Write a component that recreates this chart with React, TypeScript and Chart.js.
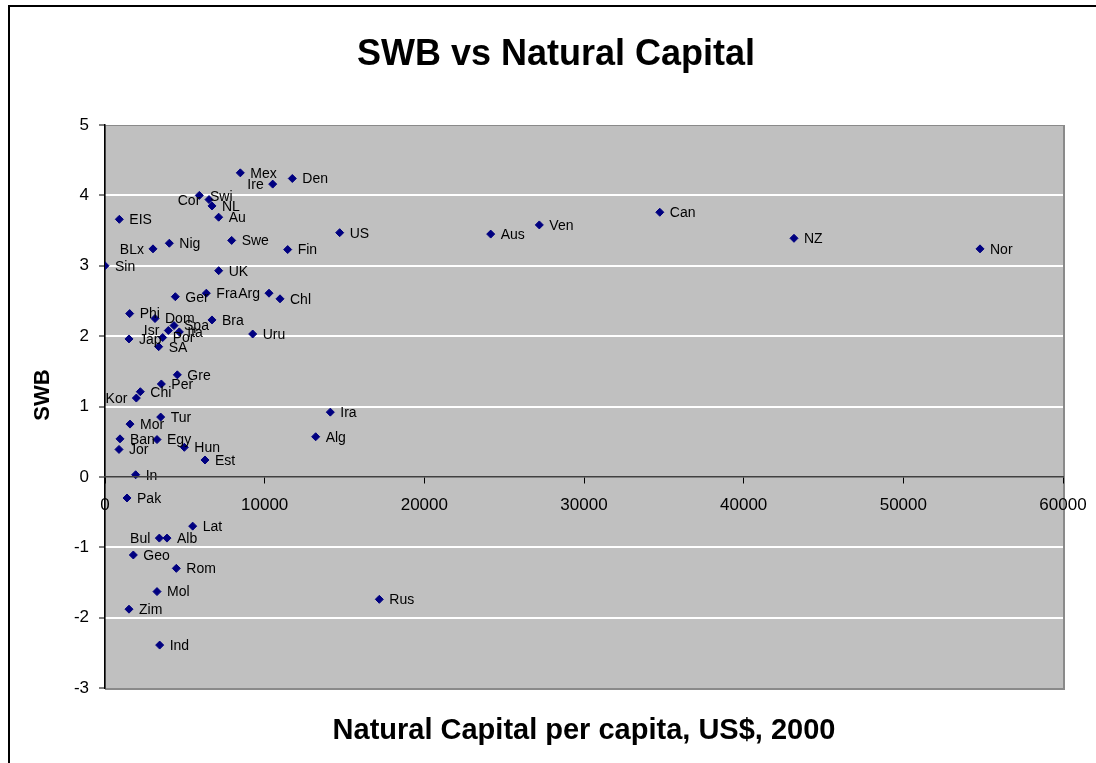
import React, { useEffect, useRef } from 'react';
import { Chart, registerables } from 'chart.js';

Chart.register(...registerables);

const countries = [
  'Mex', 'Ire', 'Den', 'Cor', 'Swi', 'NL', 'Au', 'EIS', 'US', 'Aus', 'Ven', 'Can', 'NZ', 'Nor',
  'Nig', 'Swe', 'BLx', 'Fin', 'Sin', 'UK', 'Ger', 'Fra', 'Arg', 'Chl', 'Phi', 'Dom', 'Bra',
  'Spa', 'Isr', 'Ita', 'Por', 'Jap', 'SA', 'Uru', 'Gre', 'Per', 'Chi', 'Kor', 'Tur', 'Ira',
  'Mor', 'Ban', 'Egy', 'Alg', 'Jor', 'Hun', 'Est', 'In', 'Pak', 'Lat', 'Bul', 'Alb', 'Geo',
  'Rom', 'Mol', 'Rus', 'Zim', 'Ind',
];

const naturalCapital = [
  8474, 10503, 11731, 5907, 6514, 6701, 7119, 898, 14698, 24156, 27202, 34747, 43152, 54802,
  4029, 7933, 3006, 11441, 0, 7119, 4405, 6347, 10272, 10961, 1545, 3132, 6701,
  4322, 3967, 4655, 3612, 1503, 3361, 9249, 4530, 3529, 2213, 1963, 3487, 14112,
  1566, 939, 3257, 13194, 877, 4968, 6263, 1920, 1378, 5491, 3403, 3883, 1775,
  4467, 3257, 17181, 1503, 3424,
];

const swb = [
  4.32, 4.16, 4.24, 4.0, 3.94, 3.85, 3.69, 3.66, 3.47, 3.45, 3.58, 3.76, 3.39, 3.24,
  3.32, 3.36, 3.24, 3.23, 3.0, 2.93, 2.56, 2.61, 2.61, 2.53, 2.32, 2.25, 2.23,
  2.15, 2.08, 2.06, 1.98, 1.96, 1.85, 2.03, 1.45, 1.32, 1.21, 1.12, 0.85, 0.92,
  0.75, 0.54, 0.53, 0.57, 0.39, 0.42, 0.24, 0.03, -0.3, -0.7, -0.87, -0.87, -1.11,
  -1.3, -1.63, -1.74, -1.88, -2.39,
];

const xTickValues = [0, 10000, 20000, 30000, 40000, 50000, 60000];
const yTickValues = [5, 4, 3, 2, 1, 0, -1, -2, -3];

// label placement (not data): labels drawn to the left of their marker, and small nudges
const leftLabels = ['Ire', 'Cor', 'BLx', 'Kor', 'Arg', 'Bul', 'Isr'];
const labelNudge: Record<string, [number, number]> = {
  Cor: [10, 5],
  Swi: [-9, -3],
  Ita: [-2, 0],
};

const FONT = "'Liberation Sans', Arial, Helvetica, sans-serif";

export default function App() {
  const ref = useRef<HTMLCanvasElement | null>(null);

  useEffect(() => {
    document.body.style.margin = '0';
    const canvas = ref.current;
    if (!canvas) return;

    const backgroundPlugin = {
      id: 'bgFrame',
      beforeDraw(chart: any) {
        const { ctx, chartArea: a } = chart;
        ctx.save();
        ctx.fillStyle = '#ffffff';
        ctx.fillRect(0, 0, chart.width, chart.height);
        // outer frame
        ctx.strokeStyle = '#000000';
        ctx.lineWidth = 2;
        ctx.strokeRect(9, 6, chart.width + 20, chart.height + 20);
        // plot area
        ctx.fillStyle = '#C0C0C0';
        ctx.fillRect(a.left, a.top, a.right - a.left, a.bottom - a.top);
        ctx.strokeStyle = '#8a8a8a';
        ctx.lineWidth = 1;
        ctx.strokeRect(a.left + 0.5, a.top + 0.5, a.right - a.left, a.bottom - a.top);
        ctx.lineWidth = 2;
        ctx.beginPath();
        ctx.moveTo(a.right + 1, a.top);
        ctx.lineTo(a.right + 1, a.bottom + 1);
        ctx.lineTo(a.left, a.bottom + 1);
        ctx.stroke();
        ctx.restore();
      },
    };

    const labelsPlugin = {
      id: 'pointLabels',
      afterDatasetsDraw(chart: any) {
        const { ctx } = chart;
        const meta = chart.getDatasetMeta(0);
        ctx.save();
        ctx.font = `14px ${FONT}`;
        ctx.fillStyle = '#000000';
        ctx.textBaseline = 'middle';
        meta.data.forEach((pt: any, i: number) => {
          const name = countries[i];
          const nudge = labelNudge[name] || [0, 0];
          if (leftLabels.includes(name)) {
            ctx.textAlign = 'right';
            ctx.fillText(name, pt.x - 9 + nudge[0], pt.y + 1 + nudge[1]);
          } else {
            ctx.textAlign = 'left';
            ctx.fillText(name, pt.x + 10 + nudge[0], pt.y + 1 + nudge[1]);
          }
        });
        ctx.restore();
      },
      afterDraw(chart: any) {
        const { ctx, chartArea: a } = chart;
        ctx.save();
        ctx.fillStyle = '#000000';
        ctx.textAlign = 'center';
        ctx.textBaseline = 'middle';
        ctx.font = `bold 36px ${FONT}`;
        ctx.fillText('SWB vs Natural Capital', 556, 55);
        ctx.font = `bold 29px ${FONT}`;
        ctx.fillText('Natural Capital per capita, US$, 2000', (a.left + a.right) / 2, 731);
        ctx.translate(43, 395);
        ctx.rotate(-Math.PI / 2);
        ctx.font = `bold 22px ${FONT}`;
        ctx.fillText('SWB', 0, 0);
        ctx.restore();
      },
    };

    const chart = new Chart(canvas, {
      type: 'scatter',
      data: {
        datasets: [
          {
            label: 'SWB',
            data: naturalCapital.map((x, i) => ({ x, y: swb[i] })),
            pointStyle: 'rectRot',
            pointRadius: 4,
            pointBackgroundColor: '#000080',
            pointBorderColor: '#000080',
            pointBorderWidth: 1,
          },
        ],
      },
      options: {
        responsive: false,
        animation: false,
        devicePixelRatio: 1,
        layout: { padding: { left: 0, right: 33, top: 125, bottom: 75 } },
        plugins: {
          legend: { display: false },
          tooltip: { enabled: false },
          title: { display: false },
        },
        scales: {
          x: {
            type: 'linear',
            min: 0,
            max: 60000,
            position: { y: 0 } as any,
            afterBuildTicks: (s: any) => {
              s.ticks = xTickValues.map((v) => ({ value: v }));
            },
            afterFit: (s: any) => {
              s.paddingRight = 0;
              s.paddingLeft = 0;
            },
            grid: {
              drawOnChartArea: false,
              drawTicks: true,
              tickLength: 6,
              tickColor: '#000000',
            },
            border: { display: true, color: '#404040', width: 1.5, z: 1 } as any,
            ticks: {
              color: '#000000',
              font: { family: FONT, size: 17 },
              padding: 12,
              maxRotation: 0,
              autoSkip: false,
              callback: (v: any) => String(v),
            },
          },
          y: {
            type: 'linear',
            min: -3,
            max: 5,
            position: 'left',
            afterFit: (s: any) => {
              s.width = 105;
            },
            afterBuildTicks: (s: any) => {
              s.ticks = yTickValues.map((v) => ({ value: v }));
            },
            grid: {
              color: (c: any) => (c.tick && (c.tick.value === 0 || c.tick.value === 5 || c.tick.value === -3) ? 'rgba(0,0,0,0)' : '#ffffff'),
              lineWidth: 2,
              drawTicks: true,
              tickLength: 6,
              tickColor: '#000000',
              tickWidth: 1,
            } as any,
            border: { display: true, color: '#000000', width: 1.5 },
            ticks: {
              color: '#000000',
              font: { family: FONT, size: 17 },
              padding: 10,
              callback: (v: any) => String(v),
            },
          },
        },
      },
      plugins: [backgroundPlugin, labelsPlugin],
    });

    return () => {
      chart.destroy();
    };
  }, []);

  return (
    <div style={{ width: 1096, height: 763 }}>
      <canvas ref={ref} width={1096} height={763} style={{ display: 'block' }} />
    </div>
  );
}
